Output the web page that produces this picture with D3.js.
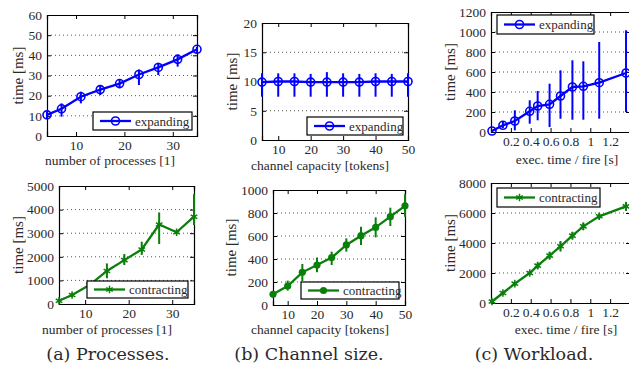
<!DOCTYPE html>
<html>
<head>
<meta charset="utf-8">
<script src="https://cdn.jsdelivr.net/npm/d3@7/dist/d3.min.js"></script>
<style>
  body { margin: 0; background: #fff; }
  svg { display: block; }
  text { fill: #2a2a2a; }
</style>
</head>
<body>
<svg id="chart" width="629" height="366"></svg>
<script>
// (a) number of processes
var procX = [4, 7, 11, 15, 19, 23, 27, 31, 35];
var procExpMean = [10.5, 13.5, 19.5, 23, 26, 30.5, 34, 38, 43];
var procExpLo = [8.8, 9.6, 16.2, 20.3, 23.6, 25.3, 30.2, 34.4, 41];
var procExpHi = [12, 16.2, 22, 25.3, 27.8, 33, 36.3, 40.5, 44.3];
var procConMean = [140, 380, 800, 1400, 1860, 2310, 3370, 3040, 3700];
var procConLo = [100, 300, 700, 1090, 1650, 2080, 2540, 2960, 3350];
var procConHi = [180, 460, 900, 1720, 2120, 2640, 3880, 3120, 4650];

// (b) channel capacity
var capX = [5, 10, 15, 20, 25, 30, 35, 40, 45, 50];
var capExpMean = [9.9, 10, 10, 9.9, 9.9, 9.9, 9.9, 10, 10, 10];
var capExpLo = [7.4, 7.4, 7.4, 7.4, 7.4, 7.4, 7.4, 7.4, 7.4, 7.4];
var capExpHi = [11.4, 11.4, 11.4, 11.3, 11.6, 11.4, 11.3, 11.4, 11.3, 11.4];
var capConMean = [93, 165, 284, 348, 412, 522, 603, 675, 768, 862];
var capConLo = [70, 125, 209, 284, 348, 464, 522, 588, 687, 768];
var capConHi = [115, 212, 357, 412, 464, 580, 681, 762, 846, 962];

// (c) workload
var loadX = [0.01, 0.12, 0.24, 0.39, 0.47, 0.59, 0.70, 0.82, 0.93, 1.09, 1.36];
var loadExpMean = [10, 67, 110, 207, 260, 277, 360, 450, 457, 493, 590];
var loadExpLo = [0, 40, 17, 83, 117, 50, 133, 123, 123, 133, 200];
var loadExpHi = [20, 100, 217, 317, 410, 483, 617, 717, 707, 900, 1017];
var loadConMean = [100, 667, 1290, 2000, 2490, 3160, 3780, 4490, 5110, 5780, 6440];
var loadConLo = [50, 570, 1190, 1900, 2290, 2910, 3430, 4240, 4860, 5580, 6140];
var loadConHi = [150, 770, 1390, 2100, 2690, 3410, 4130, 4740, 5360, 5980, 6740];

var procTicks = [10, 20, 30];
var capTicks = [10, 20, 30, 40, 50];
var loadTicks = [0.2, 0.4, 0.6, 0.8, 1, 1.2];

var serif = "Liberation Serif, Times New Roman, serif";
var blue = "#0000ff", green = "#0a800a";
var svg = d3.select("#chart");

function panel(p) {
  var x = d3.scaleLinear().domain(p.xDomain).range([p.left, p.right]);
  var y = d3.scaleLinear().domain(p.yDomain).range([p.bottom, p.top]);
  var g = svg.append("g");
  var yTicks = d3.range(p.yDomain[0], p.yDomain[1] + p.yStep / 2, p.yStep);

  // dotted grid
  g.selectAll("line.grid").data(yTicks.slice(1, -1)).enter().append("line")
    .attr("x1", p.left).attr("x2", p.right)
    .attr("y1", d => y(d)).attr("y2", d => y(d))
    .attr("stroke", "#555").attr("stroke-width", 1).attr("stroke-dasharray", "1,3");

  // axes, ticks inward on all sides
  var tl = 4, fmt = d3.format("");
  g.append("g").attr("transform", "translate(0," + p.bottom + ")")
    .call(d3.axisBottom(x).tickValues(p.xTicks).tickSize(-tl).tickPadding(4).tickFormat(fmt));
  g.append("g").attr("transform", "translate(0," + p.top + ")")
    .call(d3.axisTop(x).tickValues(p.xTicks).tickSize(-tl).tickFormat(""));
  g.append("g").attr("transform", "translate(" + p.left + ",0)")
    .call(d3.axisLeft(y).tickValues(yTicks).tickSize(-tl).tickPadding(5).tickFormat(fmt));
  g.append("g").attr("transform", "translate(" + p.right + ",0)")
    .call(d3.axisRight(y).tickValues(yTicks).tickSize(-tl).tickFormat(""));
  g.selectAll(".domain").attr("stroke", "#000").attr("stroke-width", 1.2);
  g.selectAll(".tick line").attr("stroke", "#000");
  g.selectAll(".tick text").attr("font-family", serif).attr("font-size", 13.5).attr("fill", "#2a2a2a");

  var pts = p.xs.map((d, i) => ({ x: d, m: p.mean[i], lo: p.lo[i], hi: p.hi[i] }));

  // error bars
  g.selectAll("line.err").data(pts).enter().append("line")
    .attr("x1", d => x(d.x)).attr("x2", d => x(d.x))
    .attr("y1", d => y(d.lo)).attr("y2", d => y(d.hi))
    .attr("stroke", p.color).attr("stroke-width", 2);

  g.append("path").datum(pts)
    .attr("d", d3.line().x(d => x(d.x)).y(d => y(d.m)))
    .attr("fill", "none").attr("stroke", p.color).attr("stroke-width", 2.3);

  function marker(sel) {
    if (p.marker == "circle") {
      sel.append("circle").attr("r", 4).attr("fill", "none").attr("stroke", p.color).attr("stroke-width", 1.6);
    } else if (p.marker == "dot") {
      sel.append("circle").attr("r", 3.6).attr("fill", p.color);
    } else {
      sel.append("path").attr("d", d3.symbol(d3.symbolAsterisk, 40)()).attr("fill", "none")
        .attr("stroke", p.color).attr("stroke-width", 1.5);
      sel.append("circle").attr("r", 1.8).attr("fill", p.color);
    }
  }
  g.selectAll("g.mk").data(pts).enter().append("g")
    .attr("transform", d => "translate(" + x(d.x) + "," + y(d.m) + ")")
    .call(marker);

  // legend
  var L = p.legend;
  var lg = g.append("g");
  lg.append("rect").attr("x", L[0]).attr("y", L[1]).attr("width", L[2] - L[0]).attr("height", L[3] - L[1])
    .attr("fill", "#fff").attr("stroke", "#000").attr("stroke-width", 1.2);
  var cy = (L[1] + L[3]) / 2;
  lg.append("line").attr("x1", L[0] + 7).attr("x2", L[0] + 38).attr("y1", cy).attr("y2", cy)
    .attr("stroke", p.color).attr("stroke-width", 2.3);
  lg.append("g").attr("transform", "translate(" + (L[0] + 22.5) + "," + cy + ")").call(marker);
  lg.append("text").attr("x", L[0] + 42).attr("y", cy + 4.5)
    .attr("font-family", serif).attr("font-size", 13).text(p.name);

  // labels
  g.append("text").attr("transform", "translate(" + p.ylabX + "," + ((p.top + p.bottom) / 2) + ") rotate(-90)")
    .attr("text-anchor", "middle").attr("dy", "0.35em")
    .attr("font-family", serif).attr("font-size", 15).text("time [ms]");
  g.append("text").attr("x", p.xlab[0]).attr("y", p.xlab[1]).attr("text-anchor", "middle")
    .attr("font-family", serif).attr("font-size", 13.5).text(p.xlabel);
}

// top row: expanding
panel({ left: 47, right: 197, top: 15, bottom: 136, xDomain: [4, 35], yDomain: [0, 60], yStep: 10,
  xTicks: procTicks, xs: procX, mean: procExpMean, lo: procExpLo, hi: procExpHi,
  color: blue, marker: "circle", name: "expanding", legend: [93, 112, 192, 130],
  ylabX: 18, xlab: [110, 165], xlabel: "number of processes [1]" });
panel({ left: 262, right: 408, top: 23, bottom: 140, xDomain: [5, 50], yDomain: [0, 20], yStep: 5,
  xTicks: capTicks, xs: capX, mean: capExpMean, lo: capExpLo, hi: capExpHi,
  color: blue, marker: "circle", name: "expanding", legend: [307, 117, 403, 135],
  ylabX: 232, xlab: [320, 170], xlabel: "channel capacity [tokens]" });
panel({ left: 491, right: 630, top: 12, bottom: 132, xDomain: [0, 1.4], yDomain: [0, 1200], yStep: 200,
  xTicks: loadTicks, xs: loadX, mean: loadExpMean, lo: loadExpLo, hi: loadExpHi,
  color: blue, marker: "circle", name: "expanding", legend: [497, 15, 594, 34],
  ylabX: 450, xlab: [567, 164], xlabel: "exec. time / fire [s]" });

// bottom row: contracting
panel({ left: 59, right: 194, top: 186, bottom: 304, xDomain: [4, 35], yDomain: [0, 5000], yStep: 1000,
  xTicks: procTicks, xs: procX, mean: procConMean, lo: procConLo, hi: procConHi,
  color: green, marker: "star", name: "contracting", legend: [87, 281, 188, 298],
  ylabX: 18, xlab: [107, 334], xlabel: "number of processes [1]" });
panel({ left: 273, right: 405, top: 190, bottom: 305, xDomain: [5, 50], yDomain: [0, 1000], yStep: 200,
  xTicks: capTicks, xs: capX, mean: capConMean, lo: capConLo, hi: capConHi,
  color: green, marker: "dot", name: "contracting", legend: [301, 282, 399, 299],
  ylabX: 231, xlab: [320, 334], xlabel: "channel capacity [tokens]" });
panel({ left: 491, right: 630, top: 183, bottom: 303, xDomain: [0, 1.4], yDomain: [0, 8000], yStep: 2000,
  xTicks: loadTicks, xs: loadX, mean: loadConMean, lo: loadConLo, hi: loadConHi,
  color: green, marker: "star", name: "contracting", legend: [497, 188, 600, 207],
  ylabX: 450, xlab: [566, 334], xlabel: "exec. time / fire [s]" });

// captions
var captions = ["(a) Processes.", "(b) Channel size.", "(c) Workload."];
var captionX = [108, 309, 534];
svg.selectAll("text.caption").data(captions).enter().append("text")
  .attr("x", (d, i) => captionX[i]).attr("y", 360).attr("text-anchor", "middle")
  .attr("font-family", "DejaVu Serif, serif").attr("font-size", 17.5).text(d => d);
</script>
</body>
</html>
